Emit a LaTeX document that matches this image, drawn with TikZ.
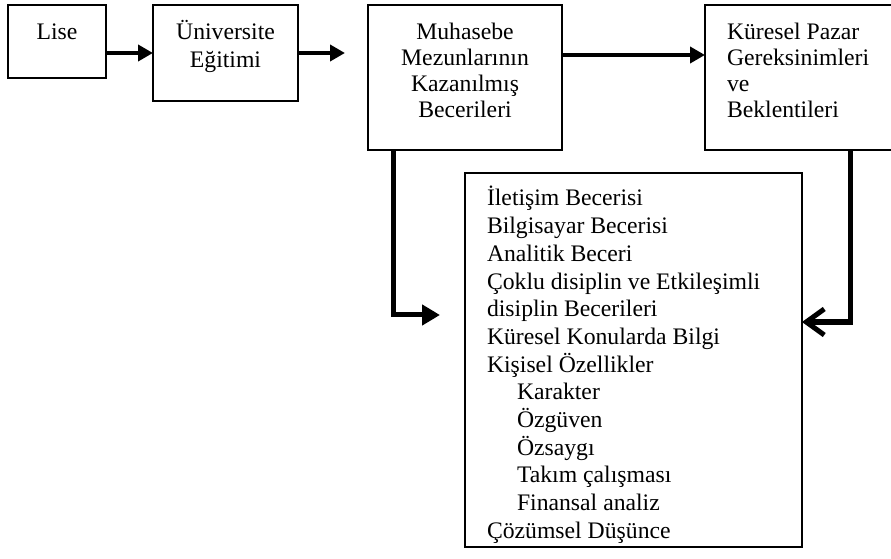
\documentclass[tikz,border=0pt]{standalone}
\usepackage{fontspec}
\setmainfont{Liberation Serif}
\usetikzlibrary{arrows.meta}
\begin{document}
\begin{tikzpicture}[x=1bp,y=-1bp,
  every node/.style={font=\fontsize{23.7bp}{27bp}\selectfont},
  box/.style={draw, line width=1.3bp, inner sep=0pt, outer sep=0pt, anchor=north west},
  flow/.style={line width=4bp, -{Triangle[length=15bp,width=16bp]}},
  feed/.style={line width=5bp, line join=miter},
]
\useasboundingbox (0,0) rectangle (891,559);

\node[box] (li) at (8,5) {\begin{minipage}[t][73bp][t]{98bp}\centering\rule{0pt}{35bp}Lise\end{minipage}};
\node[box] (un) at (153,5) {\begin{minipage}[t][96bp][t]{145bp}\centering\fontsize{23.7bp}{28bp}\selectfont\rule{0pt}{35bp}Üniversite\\Eğitimi\end{minipage}};
\node[box] (mu) at (368,5) {\begin{minipage}[t][145bp][t]{194bp}\centering\fontsize{23.7bp}{25.7bp}\selectfont\rule{0pt}{35bp}Muhasebe\\Mezunlarının\\Kazanılmış\\Becerileri\end{minipage}};
\node[box] (kp) at (705,5) {\begin{minipage}[t][145bp][t]{192bp}\raggedright\leftskip=22bp\fontsize{23.7bp}{25.7bp}\selectfont\rule{0pt}{35bp}Küresel Pazar\\Gereksinimleri\\ve\\Beklentileri\end{minipage}};
\node[box] (big) at (465,173) {\begin{minipage}[t][374bp][t]{337bp}\raggedright\leftskip=22bp\fontsize{23.7bp}{27.67bp}\selectfont\rule{0pt}{33bp}İletişim Becerisi\\
Bilgisayar Becerisi\\
Analitik Beceri\\
Çoklu disiplin ve Etkileşimli\\
disiplin Becerileri\\
Küresel Konularda Bilgi\\
Kişisel Özellikler\\
\hspace*{30bp}Karakter\\
\hspace*{30bp}Özgüven\\
\hspace*{30bp}Özsaygı\\
\hspace*{30bp}Takım çalışması\\
\hspace*{30bp}Finansal analiz\\
Çözümsel Düşünce\end{minipage}};

\coordinate (ay) at (0,55);
\coordinate (lc) at (393,315);
\coordinate (lt) at (440,315);
\coordinate (rc) at (850,322);

\draw[flow] (li.east |- un.west) -- (un.west);
\draw[flow, shorten >=23bp] (un.east) -- (mu.west |- un.east);
\draw[flow] (mu.east |- ay) -- (kp.west |- ay);
\draw[feed, -{Triangle[length=18bp,width=20bp]}] (mu.south -| lc) -- (lc) -- (lt);
\draw[feed, -{Straight Barb[length=18bp,width=26bp]}] (kp.south -| rc) -- (rc) -- (big.east |- rc);
\end{tikzpicture}
\end{document}
